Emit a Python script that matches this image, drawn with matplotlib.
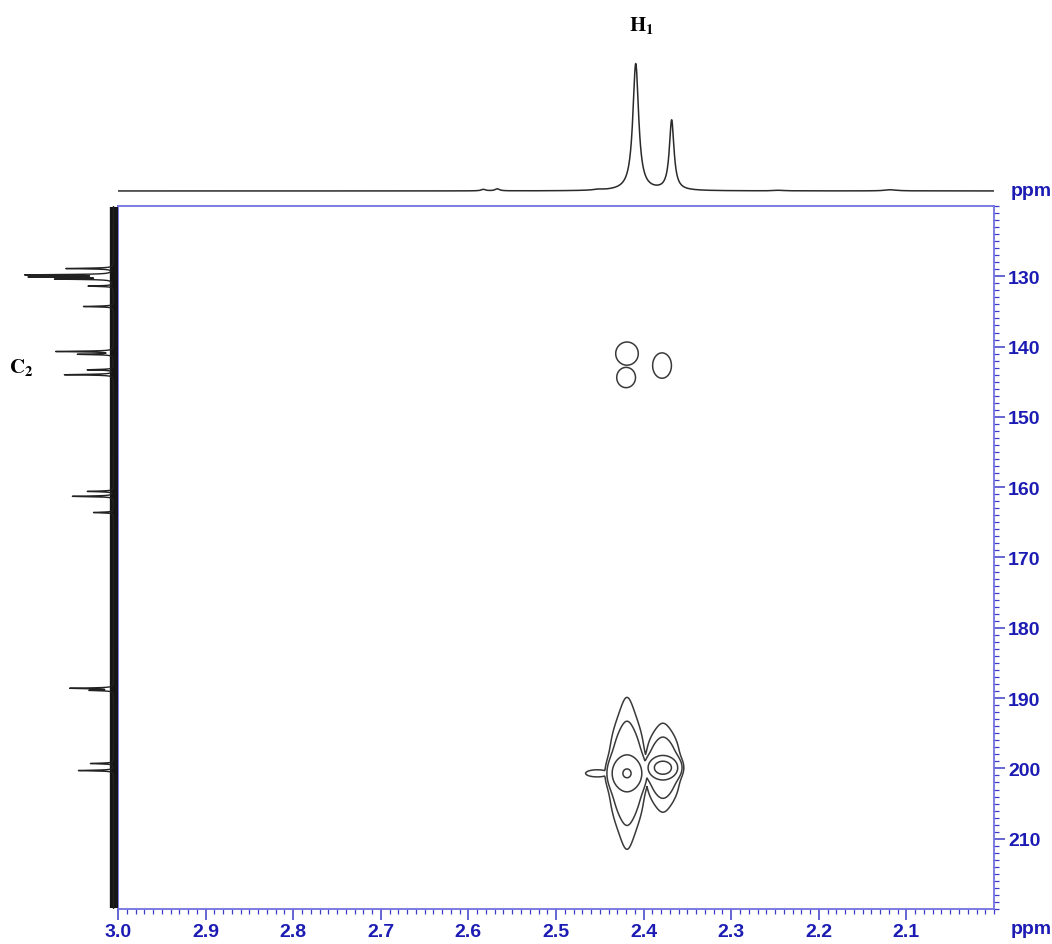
import numpy as np
import matplotlib
matplotlib.use("Agg")
import matplotlib.pyplot as plt
from matplotlib.ticker import MultipleLocator, FixedLocator

# --- 1H projection (top): peak ppm, height, half width (ppm)
h_ppm = [2.409, 2.368, 2.583, 2.567, 2.452, 2.118, 2.245]
h_height = [127, 70, 1.5, 2.0, 0.8, 1.2, 0.6]
h_hwhm = [0.0040, 0.0032, 0.003, 0.003, 0.006, 0.008, 0.006]

# --- 13C projection (left): peak ppm, height
c_ppm = [128.9, 129.8, 130.1, 130.4, 131.4, 134.3, 140.7, 141.1, 143.3, 144.0,
         160.6, 161.3, 163.6, 188.6, 188.9, 199.3, 200.3]
c_height = [47, 85, 80, 55, 25, 30, 57, 35, 26, 49,
            26, 41, 20, 43, 23, 23, 35]
c_hwhm = 0.06

# --- cross peaks (H ppm, C ppm)
xp_h = [2.419, 2.378, 2.419, 2.420, 2.379, 2.453]
xp_c = [200.7, 199.9, 141.0, 144.4, 142.7, 200.7]
# round core
core_amp = [7.0, 13.0, 0.85, 0.85, 0.85, 0.65]
core_sx = [0.0103, 0.0087, 0.0125, 0.0104, 0.0104, 0.0183]
core_sy = [1.29, 0.80, 1.60, 1.40, 1.75, 0.70]
# flat-topped body along F1
body_amp = [1.3, 1.1, 0, 0, 0, 0]
body_sx = [0.0205, 0.0205, 1, 1, 1, 1]
body_sy = [4.29, 3.14, 1, 1, 1, 1]
# long F1 tails
tail_amp = [0.9, 0.7, 0, 0, 0, 0]
tail_sx = [0.0091, 0.0091, 1, 1, 1, 1]
tail_gy = [10.7, 6.43, 1, 1, 1, 1]
levels = [0.5, 0.9, 2.8, 8.4]

FRAME = "#7272e0"
TICK = "#3c3cc8"
LABEL = "#1c1cb4"

plt.rcParams["font.family"] = ["Liberation Sans", "DejaVu Sans"]
plt.rcParams["mathtext.fontset"] = "stix"

fig = plt.figure(figsize=(10.52, 9.45), dpi=100)
ax = fig.add_axes([0.1122, 0.0370, 0.8327, 0.7440])
ax_top = fig.add_axes([0.1122, 0.7884, 0.8327, 0.1693])
ax_left = fig.add_axes([0.0, 0.0370, 0.1122, 0.7440])

# 2D map
hx = np.linspace(2.0, 3.0, 1200)
cy = np.linspace(120, 220, 1200)
H, C = np.meshgrid(hx, cy)
field = np.zeros_like(H)
for i in range(len(xp_h)):
    dx = H - xp_h[i]
    dy = C - xp_c[i]
    f = core_amp[i] * np.exp(-0.5 * (dx / core_sx[i]) ** 2 - 0.5 * (dy / core_sy[i]) ** 2)
    f += body_amp[i] * np.exp(-(dx / body_sx[i]) ** 4 - 0.5 * (dy / body_sy[i]) ** 2)
    f += tail_amp[i] * np.exp(-0.5 * (dx / tail_sx[i]) ** 2) / (1 + (dy / tail_gy[i]) ** 2)
    field = np.maximum(field, f)
ax.contour(H, C, field, levels=levels, colors="#3a3a3a", linewidths=1.1)

ax.set_xlim(3.0, 2.0)
ax.set_ylim(220, 120)
for side in ["left", "right", "top", "bottom"]:
    ax.spines[side].set_color(FRAME)
    ax.spines[side].set_linewidth(1.3)
ax.yaxis.tick_right()
ax.xaxis.set_major_locator(FixedLocator(np.round(np.arange(2.1, 3.01, 0.1), 1)))
ax.xaxis.set_minor_locator(MultipleLocator(0.01))
ax.yaxis.set_major_locator(FixedLocator(np.arange(130, 211, 10)))
ax.yaxis.set_minor_locator(MultipleLocator(1))
ax.tick_params(which="major", length=8, width=1.1, color=TICK, direction="out",
               labelsize=14, labelcolor=LABEL, pad=2)
ax.tick_params(which="minor", length=3.5, width=0.9, color=TICK, direction="out")
ax.xaxis.set_major_formatter(plt.FuncFormatter(lambda v, p: f"{v:.1f}"))
ax.yaxis.set_major_formatter(plt.FuncFormatter(lambda v, p: f"{v:.0f}"))
for lab in ax.get_xticklabels() + ax.get_yticklabels():
    lab.set_fontweight("bold")
ax.text(1.043, -0.027, "ppm", transform=ax.transAxes, ha="center", va="center",
        fontsize=14, fontweight="bold", color=LABEL)

# 1H trace
hs = np.linspace(2.0, 3.0, 6000)
spec_h = np.zeros_like(hs)
for p, hgt, w in zip(h_ppm, h_height, h_hwhm):
    spec_h += hgt / (1 + ((hs - p) / w) ** 2)
ax_top.plot(hs, spec_h, color="#2a2a2a", lw=1.1)
ax_top.set_xlim(3.0, 2.0)
ax_top.set_ylim(-8, 152)
ax_top.axis("off")
ax_top.text(1.043, 0.05, "ppm", transform=ax_top.transAxes, ha="center", va="center",
            fontsize=14, fontweight="bold", color=LABEL)
fig.text(642 / 1052, 1 - 25 / 945, r"$\mathbf{H_1}$", ha="center", va="center",
         fontsize=15, color="black")

# 13C trace, baseline noise band drawn as a heavy stroke
cs = np.linspace(120, 220, 20000)
spec_c = np.zeros_like(cs)
for p, hgt in zip(c_ppm, c_height):
    spec_c += hgt / (1 + ((cs - p) / c_hwhm) ** 2)
ax_left.plot(np.zeros(2), [120.2, 219.8], color="#151515", lw=6.0, solid_capstyle="butt")
ax_left.plot(spec_c, cs, color="#222222", lw=1.0)
ax_left.set_xlim(113.5, -4.5)
ax_left.set_ylim(220, 120)
ax_left.axis("off")
fig.text(21 / 1052, 1 - 367 / 945, r"$\mathbf{C_2}$", ha="center", va="center",
         fontsize=15, color="black")

fig.savefig("out.png", dpi=100, facecolor="white")
